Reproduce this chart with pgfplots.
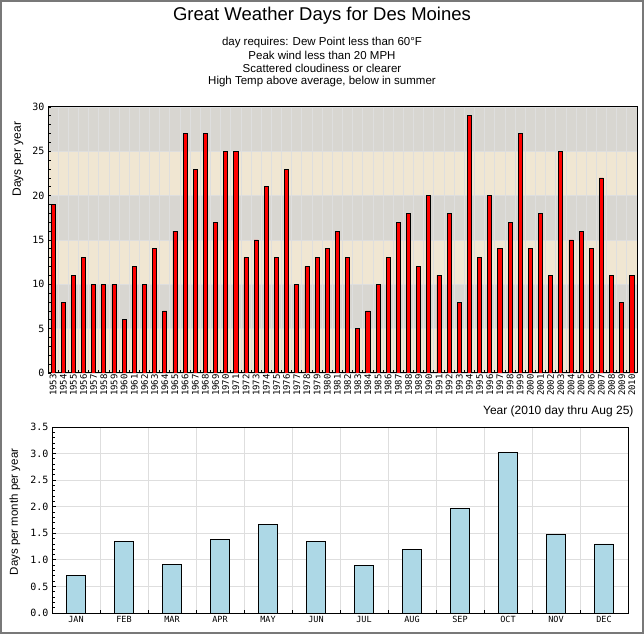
\documentclass[border=0pt]{standalone}
\usepackage{pgfplots}
\pgfplotsset{compat=1.18}
\usepackage{fontspec}
\setmainfont{Liberation Sans}
\setmonofont{DejaVu Sans Mono}
\definecolor{bandgray}{RGB}{216,214,209}
\definecolor{bandbeige}{RGB}{240,230,210}
\definecolor{gridc}{RGB}{222,222,222}
\definecolor{barblue}{RGB}{173,216,230}
\definecolor{framec}{RGB}{120,120,120}
\begin{document}
\begin{tikzpicture}[x=1pt,y=1pt]
% titles
\node[font=\fontsize{18.5}{20}\selectfont] at (322,618) {Great Weather Days for Des Moines};
\node[font=\fontsize{11.5}{13}\selectfont] at (322,591.5) {day requires: Dew Point less than 60°F};
\node[font=\fontsize{11.5}{13}\selectfont] at (322,578.5) {Peak wind less than 20 MPH};
\node[font=\fontsize{11.5}{13}\selectfont] at (322,565.5) {Scattered cloudiness or clearer};
\node[font=\fontsize{11.5}{13}\selectfont] at (322,552.5) {High Temp above average, below in summer};
\node[font=\fontsize{12}{14}\selectfont, rotate=90] at (18,475) {Days per year};
\node[font=\fontsize{12}{14}\selectfont, anchor=east] at (637,223) {Year (2010 day thru Aug 25)};
\node[font=\fontsize{11.5}{14}\selectfont, rotate=90] at (15,122) {Days per month per year};

% background bands
\begin{scope}[shift={(48,261)}]
\begin{axis}[
  at={(0,0)}, anchor=south west,
  scale only axis, width=589pt, height=266pt,
  xmin=-0.5, xmax=57.5, ymin=0, ymax=30,
  hide axis,
]
\fill[bandbeige] (axis cs:-0.5,0) rectangle (axis cs:57.5,5);
\fill[bandgray] (axis cs:-0.5,5) rectangle (axis cs:57.5,10);
\fill[bandbeige] (axis cs:-0.5,10) rectangle (axis cs:57.5,15);
\fill[bandgray] (axis cs:-0.5,15) rectangle (axis cs:57.5,20);
\fill[bandbeige] (axis cs:-0.5,20) rectangle (axis cs:57.5,25);
\fill[bandgray] (axis cs:-0.5,25) rectangle (axis cs:57.5,30);
\end{axis}

\begin{axis}[
  at={(0,0)}, anchor=south west,
  scale only axis, width=589pt, height=266pt,
  xmin=-0.5, xmax=57.5, ymin=0, ymax=30,
  axis line style={black, line width=1pt},
  ybar, bar width=0.4,
  tick pos=left,
  xtick={0,...,57},
  xticklabels={1953,1954,1955,1956,1957,1958,1959,1960,1961,1962,1963,1964,1965,1966,1967,1968,1969,1970,1971,1972,1973,1974,1975,1976,1977,1978,1979,1980,1981,1982,1983,1984,1985,1986,1987,1988,1989,1990,1991,1992,1993,1994,1995,1996,1997,1998,1999,2000,2001,2002,2003,2004,2005,2006,2007,2008,2009,2010},
  minor xtick={-0.5,0.5,...,57.5},
  every major x tick/.append style={draw=none},
  x tick label style={rotate=90, anchor=east, font=\ttfamily\fontsize{9}{9}\selectfont, inner sep=1pt},
  ytick={0,5,...,30}, minor ytick={0,...,30},
  yticklabels={0,5,10,15,20,25,30},
  y tick label style={font=\ttfamily\fontsize{10}{10}\selectfont},
  tick align=inside, major tick length=3pt, minor tick length=3pt,
  tick style={black, line width=0.8pt},
  xminorgrids=true, ymajorgrids=true, xmajorgrids=false, yminorgrids=false,
  grid style={draw=gridc, line width=0.8pt},
  minor grid style={draw=gridc, line width=0.8pt},
]
\addplot[fill=red, draw=black, line width=0.8pt] coordinates {
(0,19)(1,8)(2,11)(3,13)(4,10)(5,10)(6,10)(7,6)(8,12)(9,10)
(10,14)(11,7)(12,16)(13,27)(14,23)(15,27)(16,17)(17,25)(18,25)(19,13)
(20,15)(21,21)(22,13)(23,23)(24,10)(25,12)(26,13)(27,14)(28,16)(29,13)
(30,5)(31,7)(32,10)(33,13)(34,17)(35,18)(36,12)(37,20)(38,11)(39,18)
(40,8)(41,29)(42,13)(43,20)(44,14)(45,17)(46,27)(47,14)(48,18)(49,11)
(50,25)(51,15)(52,16)(53,14)(54,22)(55,11)(56,8)(57,11)};
\end{axis}
\end{scope}

\begin{scope}[shift={(52,21)}]
\begin{axis}[
  at={(0,0)}, anchor=south west,
  scale only axis, width=576pt, height=186pt,
  xmin=-0.5, xmax=11.5, ymin=0, ymax=3.5,
  axis line style={black, line width=1pt},
  ybar, bar width=0.385,
  tick pos=left,
  xtick={0,1,2,3,4,5,6,7,8,9,10,11},
  xticklabels={JAN,FEB,MAR,APR,MAY,JUN,JUL,AUG,SEP,OCT,NOV,DEC},
  minor xtick={-0.5,0.5,1.5,2.5,3.5,4.5,5.5,6.5,7.5,8.5,9.5,10.5,11.5},
  every major x tick/.append style={draw=none},
  x tick label style={font=\ttfamily\fontsize{8.5}{9}\selectfont},
  ytick={0,0.5,1,1.5,2,2.5,3,3.5},
  yticklabels={0.0,0.5,1.0,1.5,2.0,2.5,3.0,3.5},
  minor ytick={0.1,0.2,0.3,0.4,0.6,0.7,0.8,0.9,1.1,1.2,1.3,1.4,1.6,1.7,1.8,1.9,2.1,2.2,2.3,2.4,2.6,2.7,2.8,2.9,3.1,3.2,3.3,3.4},
  y tick label style={font=\ttfamily\fontsize{10}{10}\selectfont},
  tick align=inside, major tick length=4pt, minor tick length=3pt,
  tick style={black, line width=0.8pt},
  xminorgrids=true, ymajorgrids=true, xmajorgrids=false, yminorgrids=false,
  grid style={draw=gridc, line width=0.8pt},
  minor grid style={draw=gridc, line width=0.8pt},
]
\addplot[fill=barblue, draw=black, line width=0.8pt] coordinates {
(0,0.71)(1,1.34)(2,0.92)(3,1.39)(4,1.67)(5,1.34)
(6,0.90)(7,1.20)(8,1.96)(9,3.02)(10,1.48)(11,1.30)};
\end{axis}
\end{scope}
\draw[framec, line width=2pt] (1,1) rectangle (643,633);
\end{tikzpicture}
\end{document}
